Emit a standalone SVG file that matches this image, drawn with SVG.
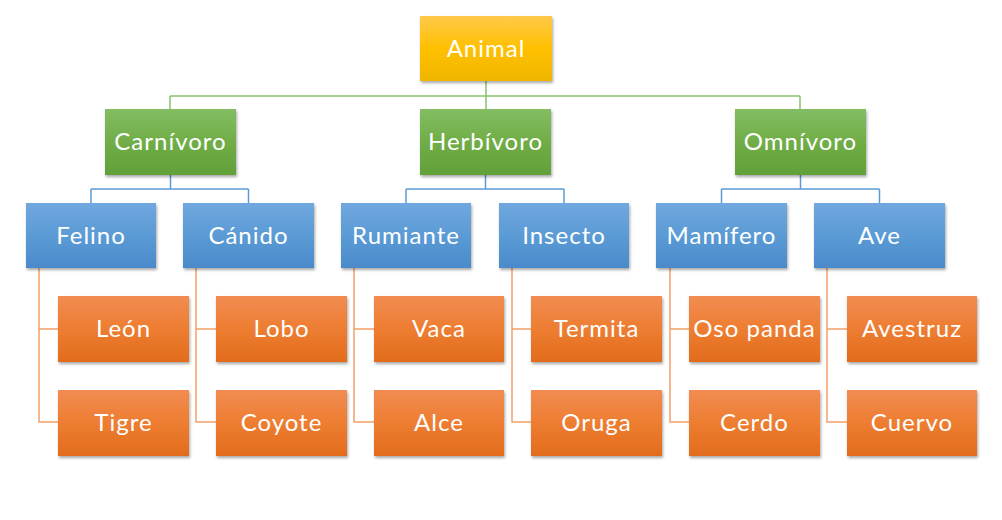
<svg xmlns="http://www.w3.org/2000/svg" width="1002" height="520" viewBox="0 0 1002 520">
<defs>
<linearGradient id="gGold" x1="0" y1="0" x2="0" y2="1"><stop offset="0" stop-color="#ffc94a"/><stop offset="0.5" stop-color="#ffc000"/><stop offset="1" stop-color="#efb500"/></linearGradient>
<linearGradient id="gGreen" x1="0" y1="0" x2="0" y2="1"><stop offset="0" stop-color="#84bd63"/><stop offset="0.5" stop-color="#70ad47"/><stop offset="1" stop-color="#62a039"/></linearGradient>
<linearGradient id="gBlue" x1="0" y1="0" x2="0" y2="1"><stop offset="0" stop-color="#71a7df"/><stop offset="0.5" stop-color="#5b9bd5"/><stop offset="1" stop-color="#4a8acb"/></linearGradient>
<linearGradient id="gOrange" x1="0" y1="0" x2="0" y2="1"><stop offset="0" stop-color="#f28c52"/><stop offset="0.5" stop-color="#ed7d31"/><stop offset="1" stop-color="#e26c1d"/></linearGradient>
<filter id="sh" x="-10%" y="-10%" width="125%" height="130%"><feDropShadow dx="1" dy="2" stdDeviation="1.5" flood-color="#000" flood-opacity="0.35"/></filter>
</defs>
<style>
.box{filter:url(#sh)}
.gold{fill:url(#gGold)}
.green{fill:url(#gGreen)}
.blue{fill:url(#gBlue)}
.orange{fill:url(#gOrange)}
text{font-family:"Lato","Noto Sans",sans-serif;font-size:24px;letter-spacing:1px;fill:#fff;text-anchor:middle}
.cg{stroke:#8cc16c;stroke-width:1.5;fill:none}
.cb{stroke:#5b9bd5;stroke-width:1.5;fill:none}
.co{stroke:#f3a06a;stroke-width:1.5;fill:none}
</style>
<g id="connectors">
<path class="cg" d="M486 81V109M170 96H800M170 96V109M800 96V109"/>
<path class="cb" d="M170.5 175V189M91 189H248.5M91 189V203M248.5 189V203"/>
<path class="cb" d="M485.5 175V189M406 189H564M406 189V203M564 189V203"/>
<path class="cb" d="M800.5 175V189M721.5 189H879.5M721.5 189V203M879.5 189V203"/>
<path class="co" d="M39 268V422H58M39 329H58"/>
<path class="co" d="M196 268V422H216M196 329H216"/>
<path class="co" d="M354 268V422H374M354 329H374"/>
<path class="co" d="M512 268V422H531M512 329H531"/>
<path class="co" d="M670 268V422H689M670 329H689"/>
<path class="co" d="M827 268V422H847M827 329H847"/>
</g>
<g id="n-animal"><rect class="box gold" x="420" y="16" width="132" height="65"/><text x="486" y="57">Animal</text></g>
<g id="n-carnivoro"><rect class="box green" x="105" y="109" width="131" height="66"/><text x="170.5" y="150">Carnívoro</text></g>
<g id="n-herbivoro"><rect class="box green" x="420" y="109" width="131" height="66"/><text x="485.5" y="150">Herbívoro</text></g>
<g id="n-omnivoro"><rect class="box green" x="735" y="109" width="131" height="66"/><text x="800.5" y="150">Omnívoro</text></g>
<g id="n-felino"><rect class="box blue" x="26" y="203" width="130" height="65"/><text x="91" y="244">Felino</text></g>
<g id="n-canido"><rect class="box blue" x="183" y="203" width="131" height="65"/><text x="248.5" y="244">Cánido</text></g>
<g id="n-rumiante"><rect class="box blue" x="341" y="203" width="130" height="65"/><text x="406" y="244">Rumiante</text></g>
<g id="n-insecto"><rect class="box blue" x="499" y="203" width="130" height="65"/><text x="564" y="244">Insecto</text></g>
<g id="n-mamifero"><rect class="box blue" x="656" y="203" width="131" height="65"/><text x="721.5" y="244">Mamífero</text></g>
<g id="n-ave"><rect class="box blue" x="814" y="203" width="131" height="65"/><text x="879.5" y="244">Ave</text></g>
<g id="n-leon"><rect class="box orange" x="58" y="296" width="131" height="66"/><text x="123.5" y="337">León</text></g>
<g id="n-tigre"><rect class="box orange" x="58" y="390" width="131" height="66"/><text x="123.5" y="431">Tigre</text></g>
<g id="n-lobo"><rect class="box orange" x="216" y="296" width="131" height="66"/><text x="281.5" y="337">Lobo</text></g>
<g id="n-coyote"><rect class="box orange" x="216" y="390" width="131" height="66"/><text x="281.5" y="431">Coyote</text></g>
<g id="n-vaca"><rect class="box orange" x="374" y="296" width="130" height="66"/><text x="439" y="337">Vaca</text></g>
<g id="n-alce"><rect class="box orange" x="374" y="390" width="130" height="66"/><text x="439" y="431">Alce</text></g>
<g id="n-termita"><rect class="box orange" x="531" y="296" width="131" height="66"/><text x="596.5" y="337">Termita</text></g>
<g id="n-oruga"><rect class="box orange" x="531" y="390" width="131" height="66"/><text x="596.5" y="431">Oruga</text></g>
<g id="n-osopanda"><rect class="box orange" x="689" y="296" width="131" height="66"/><text x="754.5" y="337">Oso panda</text></g>
<g id="n-cerdo"><rect class="box orange" x="689" y="390" width="131" height="66"/><text x="754.5" y="431">Cerdo</text></g>
<g id="n-avestruz"><rect class="box orange" x="847" y="296" width="130" height="66"/><text x="912" y="337">Avestruz</text></g>
<g id="n-cuervo"><rect class="box orange" x="847" y="390" width="130" height="66"/><text x="912" y="431">Cuervo</text></g>
</svg>
